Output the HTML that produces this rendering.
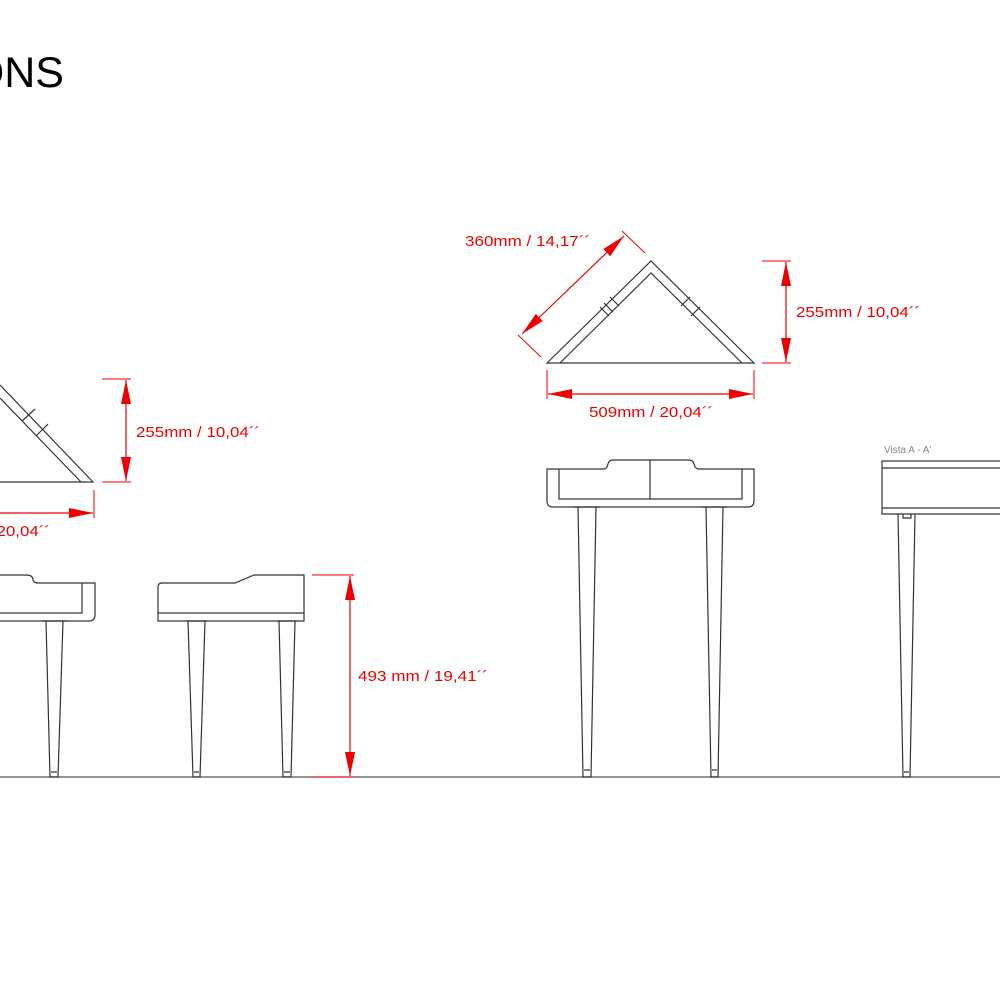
<!DOCTYPE html>
<html><head><meta charset="utf-8"><style>
html,body{margin:0;padding:0;background:#fff;}
svg{display:block;}
text{font-family:"Liberation Sans",Arial,sans-serif;}
</style></head><body>
<svg width="1000" height="1000" viewBox="0 0 1000 1000" xmlns="http://www.w3.org/2000/svg">
<defs>
<marker id="a" viewBox="0 0 10 10" refX="10" refY="5" markerWidth="24" markerHeight="10" markerUnits="userSpaceOnUse" orient="auto-start-reverse" preserveAspectRatio="none"><path d="M0,0 L10,5 L0,10z" fill="#e00"/></marker>
</defs>
<rect width="1000" height="1000" fill="#fff"/>
<text x="64" y="87" font-size="43" text-anchor="end" fill="#000">IONS</text>

<line x1="0" y1="777" x2="1000" y2="777" stroke="#555" stroke-width="1.3"/>

<g fill="none" stroke="#333" stroke-width="1.2">
<path d="M547,363 L651,261 L754,363 Z"/>
<path d="M560,363 L651,273 L742,363"/>
<path d="M600,307 L609,316 M604,303 L613,312 M610,297 L619,306 M690,297 L681,306 M700,307 L691,316"/>
<path d="M0,385 L93,482 L0,482"/>
<path d="M0,398 L81,482"/>
<path d="M22,421 L35,409 M36,436 L48,424"/>

<path d="M0,575 L26,575 Q33,575 33,580 Q34,583 38,583 L95,583 L95,615 Q95,621 89,621 L0,621"/>
<path d="M0,613 L82,613 L82,583"/>
<path d="M46,621 L50,777 L58,777 L63,621"/>
<path d="M42,621 L67,621 M51,772 L57,772"/>

<path d="M162,583 L235,583 L254,575 L304,575 L304,621 L158,621 L158,587 Q158,583 162,583"/>
<path d="M158,613 L304,613"/>
<path d="M188,621 L193,777 L200,777 L205,621"/>
<path d="M279,621 L283,777 L291,777 L295,621"/>
<path d="M186,621 L207,621 M277,621 L297,621 M194,772 L199,772 M284,772 L290,772"/>

<path d="M547,469 L604,469 Q607,469 608,464 Q609,460 613,460 L689,460 Q693,460 694,464 Q695,469 699,469 L754,469 L754,501 Q754,507 748,507 L553,507 Q547,507 547,501 Z"/>
<path d="M559,469 L559,499 L742,499 L742,469 M650,460 L650,499"/>
<path d="M578,507 L583,777 L591,777 L596,507"/>
<path d="M706,507 L711,777 L718,777 L723,507"/>
<path d="M574,507 L600,507 M702,507 L727,507 M584,770 L590,770 M712,770 L717,770"/>

<path d="M1001,461 L882,461 L882,514 L1001,514"/>
<path d="M882,468 L1001,468 M882,508 L1001,508"/>
<path d="M898,514 L903,777 L910,777 L915,514"/>
<path d="M903,514 L903,518 L911,518 L911,514 M904,772 L909,772"/>
</g>
<text x="884" y="453" font-size="10" fill="#888">Vista A - A'</text>

<g stroke="#e00" stroke-width="1" fill="none">
<path d="M541,357 L518,335 M645,253 L622,231"/>
<line x1="522" y1="334" x2="624" y2="236" marker-start="url(#a)" marker-end="url(#a)" stroke-width="1.2"/>
<path d="M762,261 L791,261 M762,363 L791,363"/>
<line x1="786" y1="262" x2="786" y2="362" marker-start="url(#a)" marker-end="url(#a)" stroke-width="1.2"/>
<path d="M547,370 L547,399 M754,370 L754,399"/>
<line x1="548" y1="394" x2="753" y2="394" marker-start="url(#a)" marker-end="url(#a)" stroke-width="1.2"/>
<path d="M102,379 L131,379 M102,482 L131,482"/>
<line x1="126" y1="380" x2="126" y2="481" marker-start="url(#a)" marker-end="url(#a)" stroke-width="1.2"/>
<path d="M94,490 L94,518"/>
<line x1="0" y1="513" x2="93" y2="513" marker-end="url(#a)" stroke-width="1.2"/>
<path d="M312,575 L354,575 M312,777 L354,777"/>
<line x1="350" y1="576" x2="350" y2="776" marker-start="url(#a)" marker-end="url(#a)" stroke-width="1.2"/>
</g>
<g fill="#e00" font-size="15">
<text x="465" y="246" textLength="125" lengthAdjust="spacingAndGlyphs">360mm / 14,17´´</text>
<text x="796" y="317" textLength="124" lengthAdjust="spacingAndGlyphs">255mm / 10,04´´</text>
<text x="589" y="417" textLength="124" lengthAdjust="spacingAndGlyphs">509mm / 20,04´´</text>
<text x="136" y="437" textLength="124" lengthAdjust="spacingAndGlyphs">255mm / 10,04´´</text>
<text x="-74" y="536" textLength="124" lengthAdjust="spacingAndGlyphs">509mm / 20,04´´</text>
<text x="358" y="681" textLength="130" lengthAdjust="spacingAndGlyphs">493 mm / 19,41´´</text>
</g>
</svg>
</body></html>
